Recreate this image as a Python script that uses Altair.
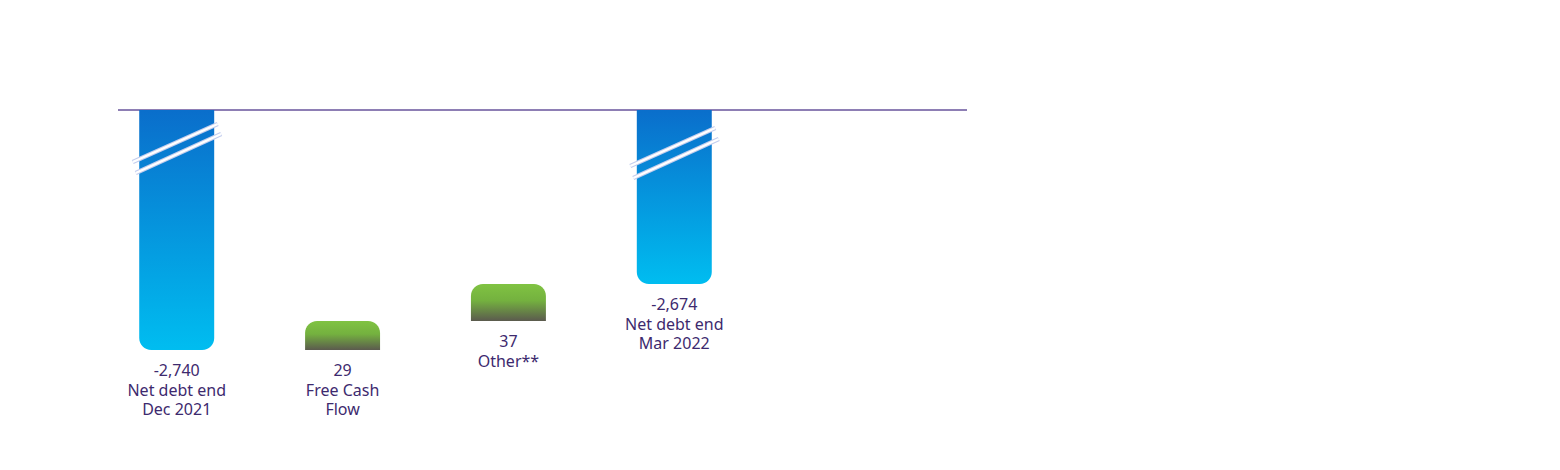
import altair as alt
import pandas as pd

# ---- data ----
names = ["Net debt end\nDec 2021", "Free Cash\nFlow", "Other**", "Net debt end\nMar 2022"]
values = [-2740, 29, 37, -2674]
kinds = ["total", "change", "change", "total"]

# axis-break markers (data units on the y scale), drawn on the total bars
break_bars = ["Net debt end\nDec 2021", "Net debt end\nMar 2022"]
break_upper_left = [-2552, -2556]
break_upper_right = [-2514, -2518]
break_lower_left = [-2563, -2568]
break_lower_right = [-2524, -2529]

# ---- build waterfall table ----
rows = []
running = 0
for n, v, k in zip(names, values, kinds):
    if k == "total":
        start, end = 0, v
        running = v
    else:
        start, end = running, running + v
        running = end
    row = {
        "name": n, "value": v, "kind": k,
        "start": start, "end": end,
        "low": min(start, end), "zero": 0,
        "label": f"{v:,}\n{n}",
        "ul": None, "ur": None, "ll": None, "lr": None,
    }
    if n in break_bars:
        i = break_bars.index(n)
        row.update(ul=break_upper_left[i], ur=break_upper_right[i],
                   ll=break_lower_left[i], lr=break_lower_right[i])
    rows.append(row)
df = pd.DataFrame(rows)

PURPLE = "#3d2a6e"
FONT = "Noto Sans"

xscale = alt.Scale(domain=names, range=[0, 615], paddingInner=0.548, paddingOuter=0.128)
yscale = alt.Scale(domain=[-2831, -2500], clamp=True)

X = alt.X("name:N", scale=xscale, axis=None)

base = alt.Chart(df)

zero_line = base.mark_rule(color="#8677b0", strokeWidth=1).encode(
    y=alt.Y("zero:Q", scale=yscale, axis=None)
)

blue = alt.LinearGradient(
    gradient="linear", x1=0, x2=0, y1=0, y2=1,
    stops=[alt.GradientStop(offset=0, color="#0a6ecb"),
           alt.GradientStop(offset=1, color="#00bdf0")],
)
green = alt.LinearGradient(
    gradient="linear", x1=0, x2=0, y1=0, y2=1,
    stops=[alt.GradientStop(offset=0, color="#80c342"),
           alt.GradientStop(offset=0.45, color="#74b13f"),
           alt.GradientStop(offset=1, color="#5b5a4e")],
)

totals = base.transform_filter(alt.datum.kind == "total").mark_bar(
    color=blue, cornerRadiusBottomLeft=12, cornerRadiusBottomRight=12
).encode(
    x=X,
    y=alt.Y("end:Q", scale=yscale, axis=None),
    y2="start:Q",
)

changes = base.transform_filter(alt.datum.kind == "change").mark_bar(
    color=green, cornerRadiusTopLeft=12, cornerRadiusTopRight=12
).encode(
    x=X,
    y=alt.Y("end:Q", scale=yscale, axis=None),
    y2="start:Q",
)


def break_layer(lf, rf, off0, off1, color, width):
    return base.transform_filter(alt.datum.kind == "total").mark_rule(
        color=color, strokeWidth=width, xOffset=off0, x2Offset=off1
    ).encode(
        x=alt.X("name:N", scale=xscale, axis=None, bandPosition=0),
        x2=alt.X2("name:N", bandPosition=1),
        y=alt.Y(f"{lf}:Q", scale=yscale, axis=None),
        y2=f"{rf}:Q",
    )


labels = base.mark_text(
    baseline="top", align="center", dy=13, fontSize=16, font=FONT,
    color=PURPLE, lineBreak="\n", lineHeight=19.5,
).encode(
    x=X,
    y=alt.Y("low:Q", scale=yscale, axis=None),
    text="label:N",
)

chart = alt.layer(
    zero_line, totals, changes,
    break_layer("ul", "ur", -6.5, 3.5, "#c3cdee", 4.5),
    break_layer("ul", "ur", -6.5, 3.5, "#ffffff", 2.2),
    break_layer("ll", "lr", -3.5, 7, "#c3cdee", 4.5),
    break_layer("ll", "lr", -3.5, 7, "#ffffff", 2.2),
    labels,
).properties(
    width=849, height=331,
    padding={"left": 109, "top": 101, "right": 5, "bottom": 5},
    background="#ffffff",
).configure_view(stroke=None)

chart.save("out.html", embed_options={"renderer": "svg", "actions": False})
